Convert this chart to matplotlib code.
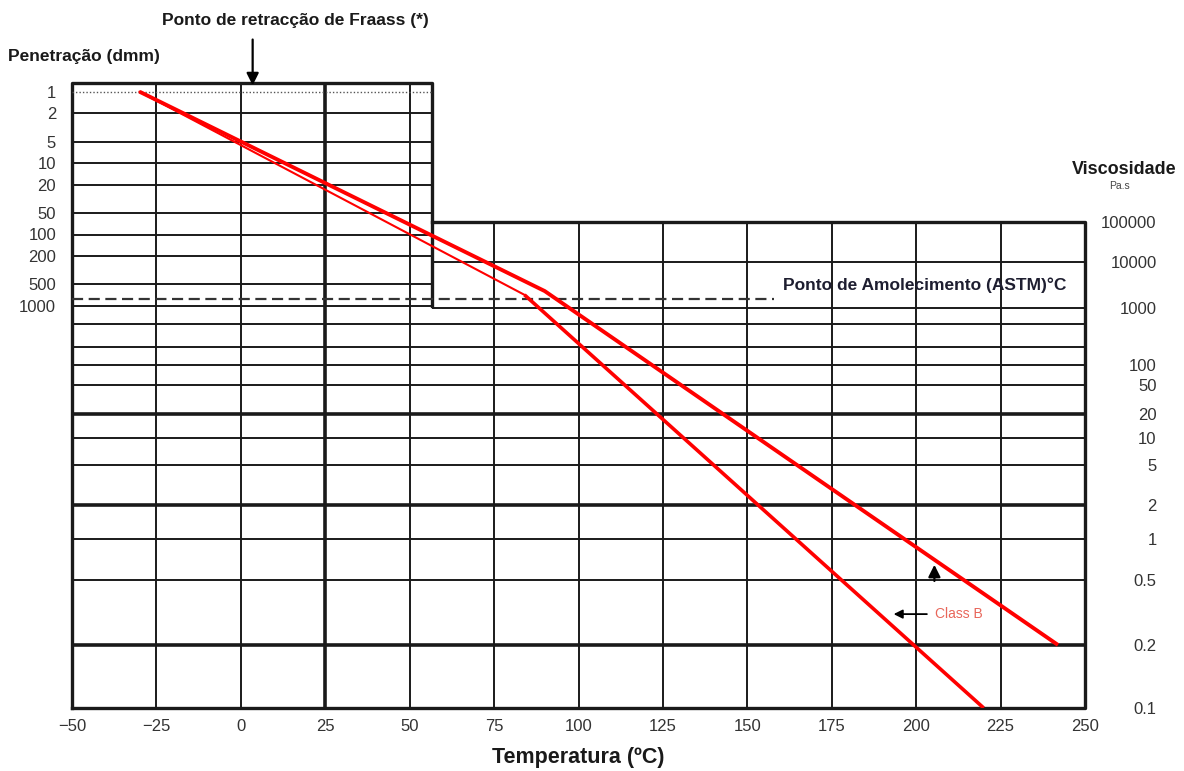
import matplotlib.pyplot as plt
import numpy as np
from matplotlib.ticker import NullLocator

plt.rcParams['font.family'] = ['Liberation Sans', 'DejaVu Sans']

# escalas do ábaco
temp_ticks = [-50, -25, 0, 25, 50, 75, 100, 125, 150, 175, 200, 225, 250]
pen_ticks = [1, 2, 5, 10, 20, 50, 100, 200, 500, 1000]
visc_ticks = [100000, 10000, 1000, 100, 50, 20, 10, 5, 2, 1, 0.5, 0.2, 0.1]
visc_labels = ['100000', '10000', '1000', '100', '50', '20', '10', '5',
               '2', '1', '0.5', '0.2', '0.1']

# linhas da grelha
pen_grid = [2, 5, 10, 20, 50, 100, 200, 500, 1000]
visc_grid_right = [10000, 1000]
visc_grid = [500, 200, 100, 50, 20, 10, 5, 2, 1, 0.5, 0.2]
visc_thick = [20, 2, 0.2]
temp_full = [-25, 0, 25, 50]
temp_lower = [75, 100, 125, 150, 175, 200, 225]
box_edge = 56.7          # limite da zona de penetração (ºC)
fraass_pen = 1
softening_pen = 800
softening_end = 158      # fim da linha tracejada (ºC)

# linhas vermelhas: início e dobra em penetração, fim em viscosidade
upper_temp = [-30, 90, 242]
upper_pen = [1, 620]
upper_end_visc = 0.2
lower_temp = [-30, 84, 220]
lower_pen = [1, 700]
lower_end_visc = 0.1

# constantes das escalas (altura no ábaco)
B, C = 260.6, 2.1
H1, S = 616.3, 71.4
H_TOP = 625


def h_visc(v):
    with np.errstate(all='ignore'):
        v = np.maximum(np.asarray(v, dtype=float), 1e-300)
        u = np.maximum(np.log10(v) + C, 1e-9)
        return B * (np.log(u) - np.log(C - 1))


def visc_h(h):
    with np.errstate(all='ignore'):
        h = np.asarray(h, dtype=float)
        return 10 ** (np.exp(h / B + np.log(C - 1)) - C)


def pen_visc(p):
    return visc_h(H1 - S * np.log10(p))


ink = '#1a1a1a'
fig = plt.figure(figsize=(11.84, 7.71), dpi=100)
ax = fig.add_axes([72 / 1184, 63 / 771, 1013 / 1184, 625 / 771])
ax.set_yscale('function', functions=(h_visc, visc_h))
ax.set_xlim(-50, 250)
v_top = float(visc_h(H_TOP))
ax.set_ylim(0.1, v_top)
for s in ax.spines.values():
    s.set_visible(False)

# eixo da penetração (esquerda)
ax2 = ax.twinx()
ax2.set_yscale('log')
ax2.set_ylim(10 ** (H1 / S), 10 ** ((H1 - H_TOP) / S))
ax2.set_yticks(pen_ticks)
ax2.set_yticklabels([str(p) for p in pen_ticks])
ax2.yaxis.set_minor_locator(NullLocator())
ax2.tick_params(axis='y', right=False, labelright=False, left=False,
                labelleft=True, pad=8, labelsize=12, labelcolor='#333333')
for s in ax2.spines.values():
    s.set_visible(False)
ax.set_zorder(ax2.get_zorder() + 1)
ax.patch.set_visible(False)

# eixo da temperatura e da viscosidade (direita)
ax.set_xticks(temp_ticks)
ax.set_xticklabels([str(t).replace('-', '\u2212') for t in temp_ticks])
ax.tick_params(axis='x', length=0, pad=8, labelsize=12, labelcolor='#333333')
ax.set_yticks(visc_ticks)
ax.set_yticklabels(visc_labels)
ax.yaxis.set_minor_locator(NullLocator())
ax.yaxis.set_ticks_position('right')
ax.tick_params(axis='y', left=False, labelleft=False, right=False,
               labelright=True, pad=48, labelsize=12, labelcolor='#333333')
for t in ax.yaxis.get_major_ticks():
    t.label2.set_horizontalalignment('right')

# grelha
thin, thick = 1.4, 2.6
ax.hlines(pen_visc(np.array(pen_grid)), -50, box_edge, color=ink, lw=thin)
ax.hlines(visc_grid_right, box_edge, 250, color=ink, lw=thin)
for v in visc_grid:
    ax.hlines(v, -50, 250, color=ink, lw=thick if v in visc_thick else thin)
for t in temp_full:
    ax.vlines(t, 0.1, v_top, color=ink, lw=thick if t == 25 else thin)
ax.vlines(temp_lower, 0.1, 100000, color=ink, lw=thin)

# moldura
ax.plot([-50, -50, box_edge, box_edge], [0.1, v_top, v_top, pen_visc(1000)],
        color=ink, lw=2.4, clip_on=False, solid_capstyle='projecting')
ax.plot([box_edge, 250, 250, -50], [100000, 100000, 0.1, 0.1],
        color=ink, lw=2.4, clip_on=False, solid_capstyle='projecting')

# Fraass e ponto de amolecimento
ax.hlines(pen_visc(fraass_pen), -50, box_edge, color='#555555', lw=1.0,
          linestyles=(0, (1, 1.5)))
ax.hlines(pen_visc(softening_pen), -50, softening_end, color='#333333',
          lw=1.6, linestyles=(0, (5, 2.5)))

# linhas vermelhas
upper_y = list(pen_visc(np.array(upper_pen))) + [upper_end_visc]
lower_y = list(pen_visc(np.array(lower_pen))) + [lower_end_visc]
ax.plot(upper_temp, upper_y, color='#ff0000', lw=2.8, zorder=6,
        solid_capstyle='butt')
ax.plot(lower_temp[:2], lower_y[:2], color='#ff0000', lw=1.5, zorder=5)
ax.plot(lower_temp[1:], lower_y[1:], color='#ff0000', lw=2.6, zorder=5,
        solid_capstyle='butt')

# setas
ax.annotate('', xy=(3.5, pen_visc(0.89)), xytext=(3.5, pen_visc(0.17)),
            arrowprops=dict(arrowstyle='-|>', color='black', lw=1.6,
                            mutation_scale=18), annotation_clip=False)
ax.annotate('', xy=(205.4, 0.67), xytext=(205.4, 0.47),
            arrowprops=dict(arrowstyle='-|>', color='black', lw=1.6,
                            mutation_scale=18), zorder=7)
ax.annotate('', xy=(192.5, 0.30), xytext=(204, 0.30),
            arrowprops=dict(arrowstyle='-|>', color='black', lw=1.3,
                            mutation_scale=13), zorder=7)
ax.text(205.5, 0.30, 'Class B', color='#e8665a', fontsize=10,
        ha='left', va='center', zorder=7)

# textos
fig.text(295 / 1184, 1 - 20 / 771, 'Ponto de retracção de Fraass (*)',
         ha='center', va='center', fontsize=12.5, fontweight='bold', color=ink)
fig.text(8 / 1184, 1 - 57 / 771, 'Penetração (dmm)', ha='left', va='center',
         fontsize=12.5, fontweight='bold', color=ink)
fig.text(1124 / 1184, 1 - 170 / 771, 'Viscosidade', ha='center', va='center',
         fontsize=13, fontweight='bold', color=ink)
fig.text(1120 / 1184, 1 - 186 / 771, 'Pa.s', ha='center', va='center',
         fontsize=7.5, color='#444444')
fig.text(783 / 1184, 1 - 285 / 771, 'Ponto de Amolecimento (ASTM)°C',
         ha='left', va='center', fontsize=12.5, fontweight='bold',
         color='#1e1e30')
fig.text(578.5 / 1184, 1 - 757 / 771, 'Temperatura (ºC)', ha='center',
         va='center', fontsize=15.5, fontweight='bold', color=ink)

fig.savefig('out.png', dpi=100)
